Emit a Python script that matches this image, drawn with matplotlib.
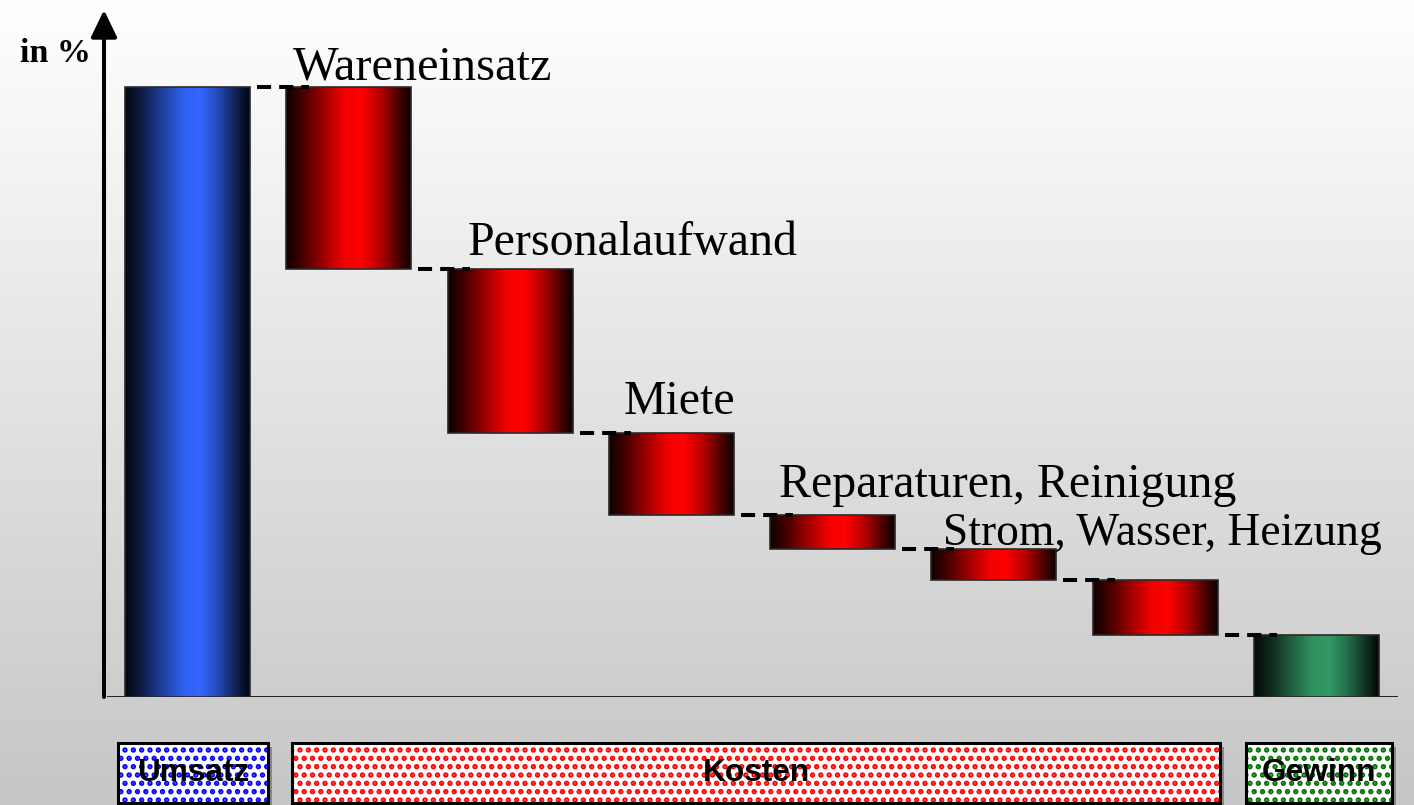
import numpy as np
import matplotlib
matplotlib.use("Agg")
import matplotlib.pyplot as plt
from matplotlib.colors import LinearSegmentedColormap
from matplotlib.patches import Rectangle
import matplotlib.transforms as mtransforms

# Daten (in % vom Umsatz)
umsatz = 100.0
kosten_labels = ["Wareneinsatz", "Personalaufwand", "Miete",
                 "Reparaturen, Reinigung", "Strom, Wasser, Heizung", ""]
kosten_werte = [29.8, 27.0, 13.3, 5.6, 5.2, 9.0]
gewinn = 10.1
gruppen = ["Umsatz", "Kosten", "Gewinn"]
gruppen_von = [0, 1, 7]
gruppen_bis = [0, 6, 7]

plt.rcParams['hatch.linewidth'] = 2.6

fig = plt.figure(figsize=(14.14, 8.05), dpi=100)

# Hintergrund-Verlauf
bg = fig.add_axes([0, 0, 1, 1], zorder=-10)
grad = np.linspace(0, 1, 256).reshape(-1, 1)
bg_cmap = LinearSegmentedColormap.from_list("bg", ["#ffffff", "#c6c6c6"])
bg.imshow(grad, aspect='auto', cmap=bg_cmap, extent=[0, 1, 0, 1], origin='upper')
bg.set_axis_off()

ax = fig.add_axes([104/1414, 108/805, 1294/1414, 687/805])
ax.patch.set_alpha(0)
for s in ax.spines.values():
    s.set_visible(False)
ax.set_xticks([])
ax.set_yticks([])

def verlauf(farbe):
    c = np.array(matplotlib.colors.to_rgb(farbe))
    return LinearSegmentedColormap.from_list(
        "g", [(0.0, c*0.06), (0.12, c*0.25), (0.3, c*0.62), (0.47, c*0.95),
              (0.6, c), (0.75, c*0.72), (0.9, c*0.3), (1.0, c*0.05)])

# Balken berechnen
x = np.arange(len(kosten_werte) + 2)
hoehen = [umsatz]
unten = [0]
stufe = umsatz
for v in kosten_werte:
    hoehen.append(v)
    unten.append(stufe - v)
    stufe -= v
hoehen.append(gewinn)
unten.append(0)
farben = ["#3366ff"] + ["#ff0000"]*len(kosten_werte) + ["#339966"]

breite = 0.775
bars = ax.bar(x, hoehen, bottom=unten, width=breite, color='none',
              edgecolor='#2a2a2a', linewidth=1.2, zorder=3)
h_grad = np.linspace(0, 1, 256).reshape(1, -1)
for b, f in zip(bars, farben):
    x0, y0 = b.get_x(), b.get_y()
    im = ax.imshow(h_grad, aspect='auto', cmap=verlauf(f),
                   extent=[x0, x0 + b.get_width(), y0, y0 + b.get_height()], zorder=2)
    im.set_clip_path(b)

ax.set_xlim(-0.518, 7.505)
ax.set_ylim(0, 112.6)

# Verbindungslinien
for i in range(len(bars) - 1):
    y = unten[i] + hoehen[i] if i == 0 else unten[i]
    xa = bars[i].get_x() + breite + 0.043
    xb = bars[i+1].get_x() + 0.14
    ax.plot([xa, xb], [y, y], color='black', lw=2.9,
            linestyle=(0, (3.5, 2.0)), zorder=4, solid_capstyle='butt')

# Beschriftungen der Kosten
versatz = [(7, 7), (20, 14), (15, 19), (9, 18), (12, 4), (0, 0)]
groessen = [34.8, 34.5, 34.5, 34.5, 32.8, 34.5]
for i, lab in enumerate(kosten_labels):
    if not lab:
        continue
    b = bars[i+1]
    ax.annotate(lab, (b.get_x(), b.get_y() + b.get_height()),
                xytext=versatz[i], textcoords='offset pixels',
                fontsize=groessen[i], family='Liberation Serif', va='baseline',
                ha='left', zorder=5)

# Achsen
ax.axhline(0, xmin=4/1294, color='#222222', lw=1.4, zorder=1)
ax.annotate('', xy=(0, 1), xytext=(0, 0), xycoords='axes fraction',
            arrowprops=dict(arrowstyle='-|>,head_length=0.83,head_width=0.4',
                            mutation_scale=20, lw=2.9, color='black',
                            shrinkA=0, shrinkB=0))
fig.text(20/1414, 1 - 62/805, "in %", fontsize=24.5, fontweight='bold',
         family='Liberation Serif', va='baseline', ha='left')

# Gruppen-Kaesten unten
trans = mtransforms.blended_transform_factory(ax.transData, fig.transFigure)
schatten = mtransforms.offset_copy(trans, fig=fig, x=4, y=-4, units='dots')
kasten_farben = ["#0000ff", "#ff0000", "#007000"]
rand_links = [0.43, 0.35, 0.44]
rand_rechts = [0.50, 0.40, 0.47]
for name, a, e, kf, rl, rr in zip(gruppen, gruppen_von, gruppen_bis,
                                  kasten_farben, rand_links, rand_rechts):
    left = a - rl
    right = e + rr
    yb = 2/805
    hh = 60/805
    fig.add_artist(Rectangle((left, yb), right - left, hh, transform=schatten,
                             facecolor='#8a8a8a', edgecolor='none', zorder=1))
    fig.add_artist(Rectangle((left, yb), right - left, hh, transform=trans,
                             facecolor='white', edgecolor=kf, linewidth=0,
                             hatch='..', zorder=2))
    fig.add_artist(Rectangle((left, yb), right - left, hh, transform=trans,
                             fill=False, edgecolor='black', linewidth=2.2, zorder=3))
    fig.text((left + right)/2, yb + hh/2, name, transform=trans, ha='center',
             va='center', fontsize=22.8, fontweight='bold',
             family='Liberation Sans', zorder=4)

fig.savefig("out.png", dpi=100)
